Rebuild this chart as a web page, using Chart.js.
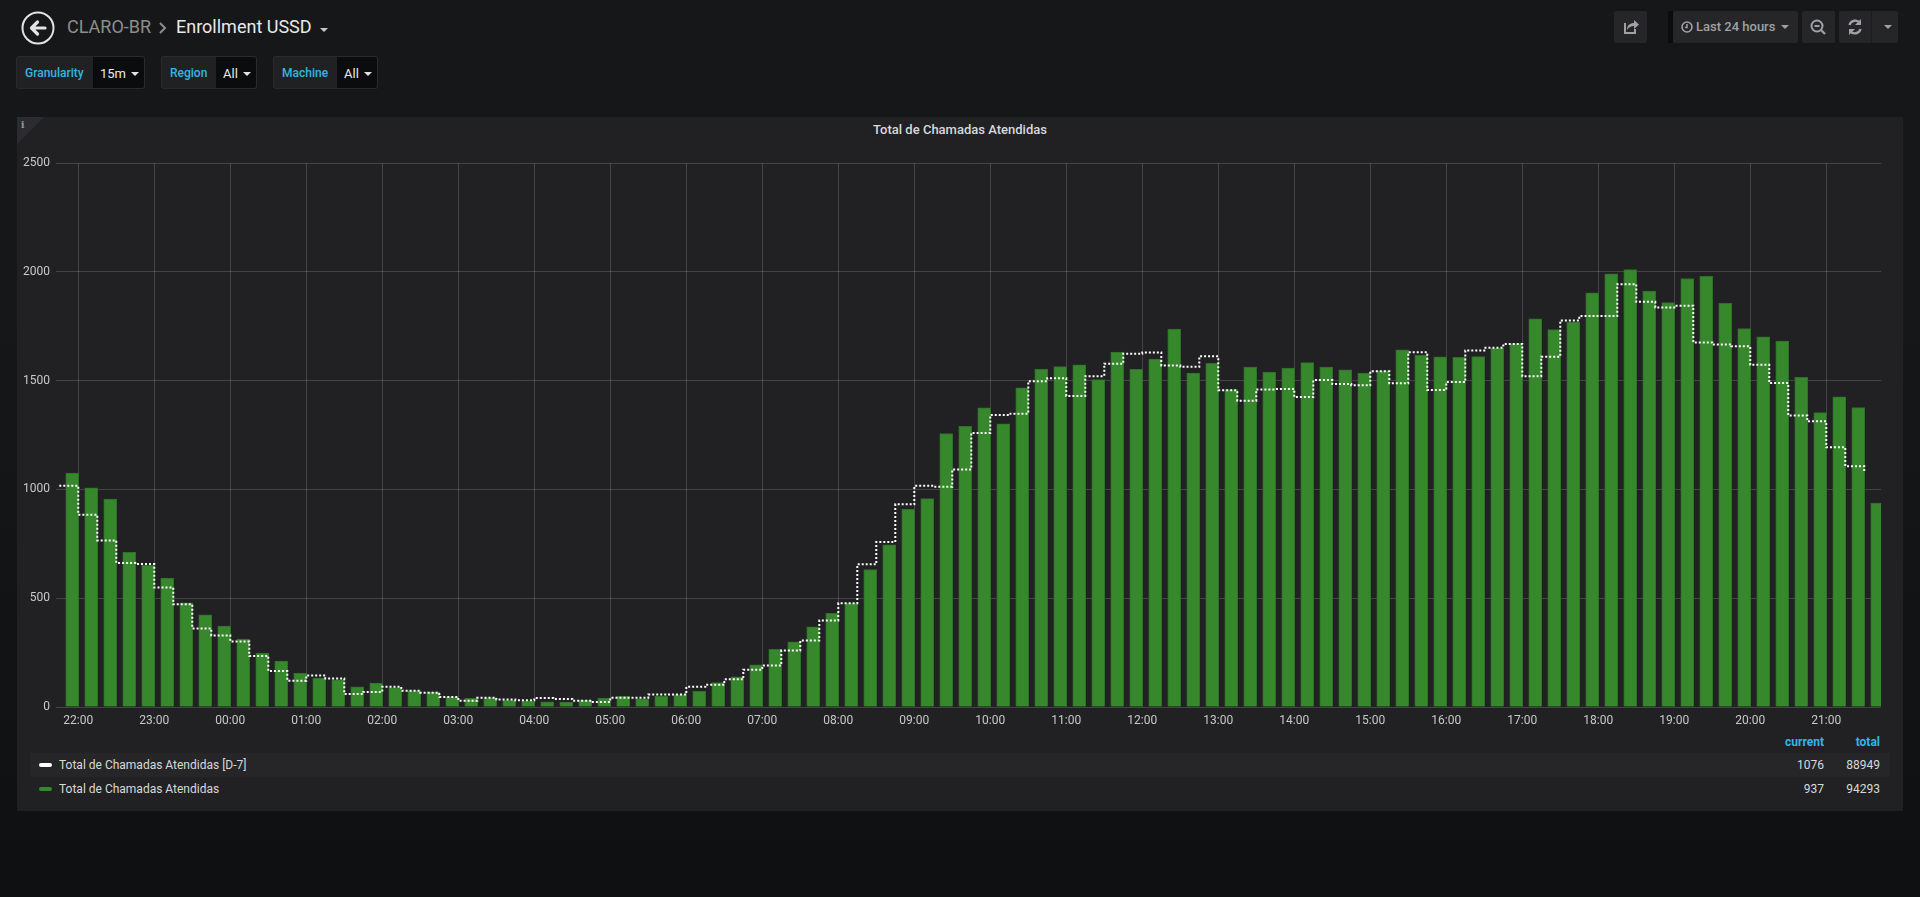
<!DOCTYPE html>
<html>
<head>
<meta charset="utf-8">
<title>Enrollment USSD</title>
<script src="https://cdn.jsdelivr.net/npm/chart.js@4.4.1/dist/chart.umd.min.js"></script>
<style>
  html, body { margin: 0; padding: 0; }
  body {
    width: 1920px; height: 897px; overflow: hidden; position: relative;
    background: linear-gradient(#161719 0, #161719 320px, #0f1012 897px);
    font-family: Roboto, "Helvetica Neue", Arial, sans-serif; color: #d8d9da;
  }
  .abs { position: absolute; }
  .crumb { top: 14px; font-size: 18px; line-height: 26px; white-space: nowrap; }
  .vlabel, .vvalue { top: 56px; height: 33px; line-height: 33px; font-size: 12px; box-sizing: border-box; }
  .vlabel { background: #212124; border: 1px solid #2a2a2d; border-right: none; border-radius: 3px 0 0 3px;
            color: #33b5e5; font-weight: 500; padding-left: 8px; }
  .vvalue { background: #0b0c0e; border: 1px solid #2a2a2d; border-left: none; border-radius: 0 3px 3px 0;
            color: #e9e9e9; font-size: 13px; padding-left: 7px; }
  .caret { display: inline-block; width: 0; height: 0; border-left: 4px solid transparent;
           border-right: 4px solid transparent; border-top: 4px solid #e3e3e3; margin-left: 5px; vertical-align: 2px; }
  .btn { top: 11px; height: 32px; background: #262628; border-radius: 2px; color: #9fa1a4; }
  .panel { left: 17px; top: 117px; width: 1886px; height: 694px; background: #212124; }
  .ptitle { left: 17px; top: 122px; width: 1886px; text-align: center; font-size: 13px; font-weight: 500; color: #d8d9da; }
  .lhead { top: 735px; font-size: 12px; font-weight: 700; color: #33b5e5; text-align: right; }
  .lrow { left: 30px; width: 1860px; height: 24px; font-size: 12px; line-height: 24px; color: #d8d9da; }
  .lrow .sw { position: absolute; left: 9px; top: 10px; width: 13px; height: 4px; border-radius: 2px; }
  .lrow .nm { position: absolute; left: 29px; }
  .lrow .v1 { position: absolute; left: 1734px; width: 60px; text-align: right; }
  .lrow .v2 { position: absolute; left: 1790px; width: 60px; text-align: right; }
</style>
</head>
<body>

<!-- top bar -->
<svg class="abs" style="left:20px;top:10px" width="36" height="36" viewBox="0 0 36 36">
  <circle cx="18" cy="18" r="15.5" fill="none" stroke="#e3e3e3" stroke-width="2"/>
  <path d="M25 18 H12 M17.5 12 L11.5 18 L17.5 24" fill="none" stroke="#e3e3e3" stroke-width="3.2" stroke-linecap="round" stroke-linejoin="round"/>
</svg>
<div class="abs crumb" style="left:67px;color:#8e8e8e">CLARO-BR</div>
<svg class="abs" style="left:158px;top:21px" width="10" height="14" viewBox="0 0 10 14">
  <path d="M2 2 L7 7 L2 12" fill="none" stroke="#8e8e8e" stroke-width="2"/>
</svg>
<div class="abs crumb" style="left:176px;color:#e9e9e9">Enrollment USSD</div>
<div class="abs caret" style="left:315px;top:28px;border-top-color:#c8c8c8"></div>

<div class="abs vlabel" style="left:16px;width:77px">Granularity</div>
<div class="abs vvalue" style="left:93px;width:52px">15m<span class="caret"></span></div>
<div class="abs vlabel" style="left:161px;width:55px">Region</div>
<div class="abs vvalue" style="left:216px;width:41px">All<span class="caret"></span></div>
<div class="abs vlabel" style="left:273px;width:64px">Machine</div>
<div class="abs vvalue" style="left:337px;width:41px">All<span class="caret"></span></div>

<div class="abs btn" style="left:1614px;width:33px">
  <svg width="33" height="32" viewBox="0 0 33 32">
    <path d="M11 12 V22 H21 V18" fill="none" stroke="#9fa1a4" stroke-width="2"/>
    <path d="M13 19 C13 14 16 12 20 12 V9 L25 13.5 L20 18 V15 C17 15 15 16 13 19 Z" fill="#9fa1a4"/>
  </svg>
</div>
<div class="abs" style="left:1668px;top:11px;width:5px;height:32px;background:#0b0c0e"></div>
<div class="abs btn" style="left:1673px;width:125px;font-size:13px;font-weight:500;line-height:32px">
  <svg style="position:absolute;left:8px;top:10px" width="12" height="12" viewBox="0 0 12 12">
    <circle cx="6" cy="6" r="5" fill="none" stroke="#9fa1a4" stroke-width="1.6"/>
    <path d="M6 3 V6.5 H4" fill="none" stroke="#9fa1a4" stroke-width="1.5"/>
  </svg>
  <span style="position:absolute;left:23px">Last 24 hours</span>
  <span class="caret" style="position:absolute;left:103px;top:14px;border-top-color:#9fa1a4"></span>
</div>
<div class="abs btn" style="left:1802px;width:33px">
  <svg width="33" height="32" viewBox="0 0 33 32">
    <circle cx="15" cy="15" r="5.5" fill="none" stroke="#9fa1a4" stroke-width="2"/>
    <path d="M12.5 15 H17.5 M19 19 L23 23" stroke="#9fa1a4" stroke-width="2.2"/>
  </svg>
</div>
<div class="abs btn" style="left:1839px;width:59px">
  <svg width="32" height="32" viewBox="0 0 32 32">
    <path d="M10.5 14 A6 6 0 0 1 21 12" fill="none" stroke="#9fa1a4" stroke-width="2.4"/>
    <path d="M22 8 V14 H16 Z" fill="#9fa1a4"/>
    <path d="M21.5 18 A6 6 0 0 1 11 20" fill="none" stroke="#9fa1a4" stroke-width="2.4"/>
    <path d="M10 24 V18 H16 Z" fill="#9fa1a4"/>
  </svg>
  <div style="position:absolute;left:32px;top:0;width:1px;height:32px;background:#1d1d1f"></div>
  <span class="caret" style="position:absolute;left:40px;top:14px;border-top-color:#9fa1a4"></span>
</div>

<!-- panel -->
<div class="abs panel"></div>
<svg class="abs" style="left:17px;top:117px" width="28" height="28">
  <path d="M0 0 H27 L0 27 Z" fill="#2c2c30"/>
  <text x="4" y="11" font-size="9" font-family="DejaVu Serif, serif" font-weight="bold" fill="#9a9a9a">i</text>
</svg>
<div class="abs ptitle" id="title"></div>
<canvas class="abs" id="chart" style="left:17px;top:150px" width="1870" height="580"></canvas>

<div class="abs lhead" style="left:1764px;width:60px">current</div>
<div class="abs lhead" style="left:1820px;width:60px">total</div>
<div id="legend"></div>

<script>
const panelTitle = 'Total de Chamadas Atendidas';
const seriesNames = ['Total de Chamadas Atendidas [D-7]', 'Total de Chamadas Atendidas'];
const seriesColors = ['#ffffff', '#37872D'];
const seriesTotals = [88949, 94293];

// 15 minute slots, first one at 21:45
const slotStart = '21:45';
const slotStep = 15;
const hourLabels = ['22:00', '23:00', '00:00', '01:00', '02:00', '03:00', '04:00', '05:00',
  '06:00', '07:00', '08:00', '09:00', '10:00', '11:00', '12:00', '13:00', '14:00', '15:00',
  '16:00', '17:00', '18:00', '19:00', '20:00', '21:00'];
const yTickValues = [0, 500, 1000, 1500, 2000, 2500];

// same day last week (dotted step line)
const answeredD7 = [
  1017,
  884, 766, 662, 657,   549, 472, 361, 329,   301, 235, 165, 121,   145, 131, 60, 69,
  93, 75, 66, 46,       29, 43, 34, 31,       41, 37, 29, 23,       43, 43, 58, 57,
  93, 102, 127, 171,    191, 260, 306, 398,   477, 656, 759, 932,   1017, 1013, 1092, 1260,
  1342, 1348, 1498, 1511, 1430, 1521, 1578, 1624, 1630, 1570, 1564, 1612, 1456, 1408, 1460, 1462,
  1425, 1503, 1485, 1479, 1543, 1488, 1631, 1457, 1494, 1639, 1652, 1669, 1521, 1610, 1777, 1797,
  1797, 1944, 1863, 1837, 1845, 1676, 1667, 1658, 1573, 1489, 1340, 1314,
  1194, 1107, 1076
];

// today (bars)
const answered = [
  1075,
  1008, 956, 711, 651,  593, 479, 424, 372,   312, 248, 211, 156,   133, 125, 93, 110,
  89, 76, 70, 47,       40, 43, 31, 28,       24, 23, 32, 41,       49, 38, 49, 57,
  72, 112, 139, 194,    265, 300, 369, 431,   477, 632, 745, 909,   958, 1257, 1290, 1375,
  1302, 1467, 1554, 1565, 1573, 1505, 1632, 1552, 1599, 1737, 1535, 1580, 1459, 1563, 1540, 1558,
  1583, 1563, 1550, 1535, 1545, 1642, 1617, 1610, 1607, 1611, 1649, 1671, 1785, 1735, 1770, 1904,
  1991, 2011, 1912, 1859, 1970, 1980, 1856, 1740, 1702, 1682, 1516, 1354,
  1426, 1376, 937
];

function toMin(label) {
  const p = label.split(':').map(Number);
  return p[0] * 60 + p[1];
}
const start = toMin(slotStart);
const slotX = (i) => start + i * slotStep;
const hourX = hourLabels.map((l) => { const m = toMin(l); return m < start ? m + 1440 : m; });
const fmt = (v) => { const m = ((Math.round(v) % 1440) + 1440) % 1440; return String(Math.floor(m / 60)).padStart(2, '0') + ':' + String(m % 60).padStart(2, '0'); };

// visible window, and grafana draws a bar from its timestamp to the right
const X_MIN = start - 2.6;
const X_MAX = start + 1438.2;
const BAR_W = 13;
const BAR_SHIFT = 5.1;

document.getElementById('title').textContent = panelTitle;

Chart.defaults.font.family = 'Roboto, "Helvetica Neue", Arial, sans-serif';
Chart.defaults.font.size = 12;
Chart.defaults.color = '#c8c9ca';

const gridColor = 'rgba(255,255,255,0.16)';

new Chart(document.getElementById('chart'), {
  type: 'bar',
  data: {
    datasets: [
      {
        type: 'line', label: seriesNames[0],
        data: answeredD7.map((v, i) => ({ x: slotX(i), y: v })),
        xAxisID: 'x', borderColor: seriesColors[0], borderWidth: 2, borderDash: [2, 2],
        stepped: true, pointRadius: 0, fill: false, tension: 0
      },
      {
        type: 'bar', label: seriesNames[1],
        data: answered.map((v, i) => ({ x: slotX(i), y: v })),
        xAxisID: 'xb', backgroundColor: seriesColors[1], borderColor: '#2f7028', borderWidth: 1,
        borderSkipped: 'bottom', barThickness: BAR_W
      }
    ]
  },
  options: {
    responsive: false,
    animation: false,
    devicePixelRatio: 1,
    layout: { padding: { top: 12, right: 6, bottom: 0, left: 0 } },
    plugins: { legend: { display: false }, tooltip: { enabled: false } },
    scales: {
      x: {
        type: 'linear', min: X_MIN, max: X_MAX, offset: false,
        grid: { color: gridColor, drawTicks: false, offset: false },
        border: { display: false },
        afterBuildTicks: (s) => { s.ticks = hourX.map((v) => ({ value: v })); },
        afterFit: (s) => { s.height = 23; },
        ticks: { autoSkip: false, maxRotation: 0, padding: 7, callback: (v) => fmt(v) }
      },
      xb: {
        type: 'linear', display: false, offset: false,
        min: X_MIN - BAR_SHIFT, max: X_MAX - BAR_SHIFT,
        grid: { display: false, offset: false }
      },
      y: {
        min: 0, max: 2500,
        grid: { color: gridColor, drawTicks: false },
        border: { display: false },
        afterBuildTicks: (s) => { s.ticks = yTickValues.map((v) => ({ value: v })); },
        afterFit: (s) => { s.width = 39; },
        ticks: { padding: 6, callback: (v) => String(v) }
      }
    }
  }
});

// grafana table legend: name, current, total
const legend = document.getElementById('legend');
[answeredD7, answered].forEach((series, k) => {
  const row = document.createElement('div');
  row.className = 'abs lrow';
  row.style.top = (753 + k * 24) + 'px';
  if (k === 0) row.style.background = '#262629';
  row.innerHTML = '<span class="sw"></span><span class="nm"></span><span class="v1"></span><span class="v2"></span>';
  row.querySelector('.sw').style.background = seriesColors[k];
  row.querySelector('.nm').textContent = seriesNames[k];
  row.querySelector('.v1').textContent = series[series.length - 1];
  row.querySelector('.v2').textContent = seriesTotals[k];
  legend.appendChild(row);
});
</script>
</body>
</html>
